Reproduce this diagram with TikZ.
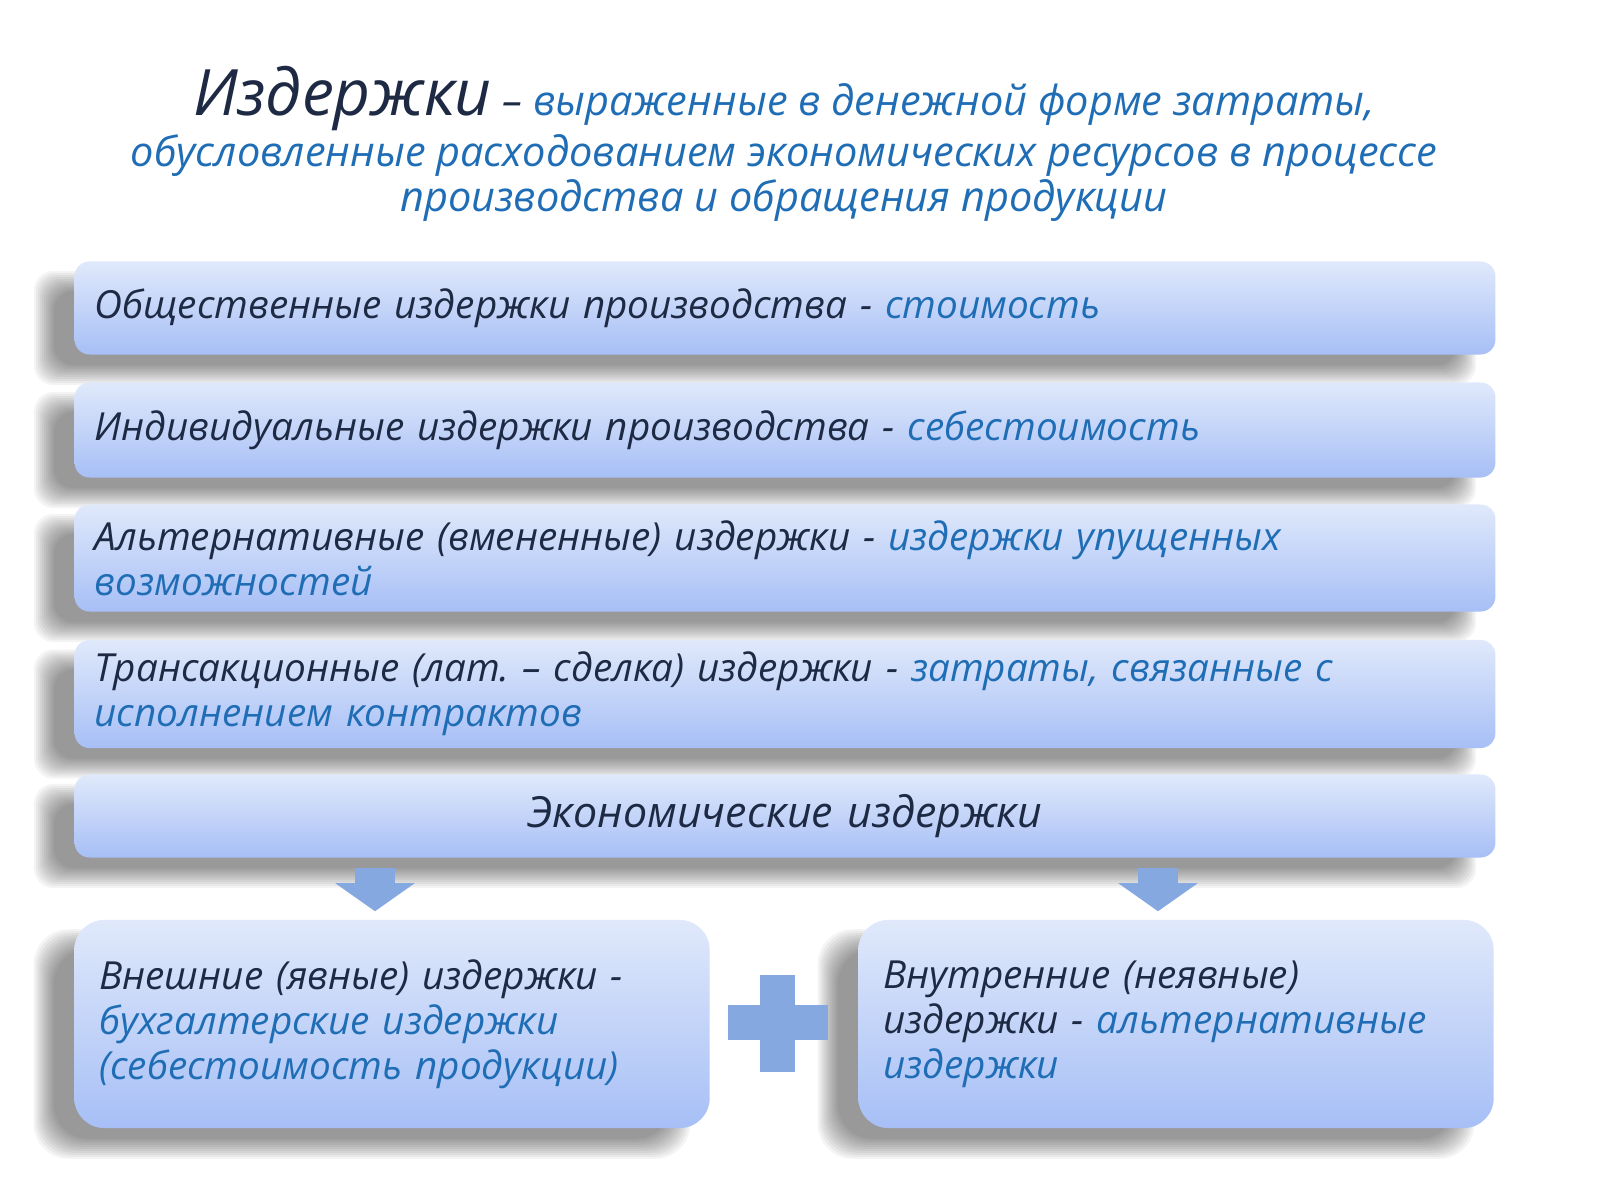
\documentclass[tikz,border=0pt]{standalone}
\usepackage{fontspec}
\setmainfont{Open Sans}
\usetikzlibrary{arrows.meta,backgrounds}

\definecolor{ink}{HTML}{1E2A44}
\definecolor{hint}{HTML}{1F6DB5}
\definecolor{boxtop}{HTML}{E0E9FB}
\definecolor{boxbot}{HTML}{A7BFF6}
\definecolor{signblue}{HTML}{86A8E0}

\tikzset{
  costbox/.style={rounded corners=0.15cm,top color=boxtop,bottom color=boxbot,
    draw=none,text=ink,font=\fontsize{11}{12.8}\selectfont\itshape,
    minimum width=14.2cm,text width=13.8cm,inner xsep=0.2cm,align=left},
  halfbox/.style={costbox,rounded corners=0.3cm,minimum width=6.35cm,
    text width=5.85cm,inner xsep=0.25cm,minimum height=2.08cm},
  shadowlayer/.style={fill=black,opacity=0.042},
  blockarrow/.style={line width=0.4cm,draw=signblue,-{Triangle[width=0.78cm,length=0.28cm]},
    shorten <=0.1cm,shorten >=0.08cm}
}

\begin{document}
\begin{tikzpicture}[x=0.01cm,y=-0.01cm]
    \useasboundingbox (0,0) rectangle (1600,1200);

    \node[align=center,text=hint,font=\fontsize{11.8}{13}\selectfont\itshape] (title) at (784,144)
      {{\color{ink}\fontsize{18.2}{18.2}\selectfont Издержки} {\color{ink}–} выраженные в денежной форме затраты,\\
       обусловленные расходованием экономических ресурсов в процессе\\
       производства и обращения продукции};

    \node[costbox,minimum height=0.93cm] (social) at (785,308)
      {Общественные издержки производства - {\color{hint}стоимость}};
    \node[costbox,minimum height=0.95cm] (indiv) at (785,430)
      {Индивидуальные издержки производства - {\color{hint}себестоимость}};
    \node[costbox,minimum height=1.07cm] (alter) at (785,558)
      {Альтернативные (вмененные) издержки - {\color{hint}издержки упущенных\\ возможностей}};
    \node[costbox,minimum height=1.08cm] (trans) at (785,694)
      {Трансакционные (лат.\ – сделка) издержки - {\color{hint}затраты, связанные с\\ исполнением контрактов}};
    \node[costbox,minimum height=0.83cm,align=center,font=\fontsize{12.2}{14}\selectfont\itshape] (econ) at (785,816)
      {Экономические издержки};

    \node[halfbox] (explicit) at (392,1024)
      {Внешние (явные) издержки -\\ {\color{hint}бухгалтерские издержки\\ (себестоимость продукции)}};
    \node[halfbox] (implicit) at (1176,1024)
      {Внутренние (неявные)\\ издержки - {\color{hint}альтернативные\\ издержки}};

    % white page, then soft shadows shifted left and down
    \begin{scope}[on background layer]
      \fill[white] (0,0) rectangle (1600,1200);
      \foreach \n/\rc in {social/0.2cm,indiv/0.2cm,alter/0.2cm,trans/0.2cm,econ/0.2cm,explicit/0.35cm,implicit/0.35cm}
        \foreach \k in {-10,-8,...,10}
          \fill[shadowlayer,rounded corners=\rc]
            ([shift={(-30+\k,20+\k)}]\n.north west) rectangle ([shift={(-30-\k,20-\k)}]\n.south east);
    \end{scope}

    \coordinate (ar1) at (375,0);
    \coordinate (ar2) at (1158,0);
    \draw[blockarrow] (econ.south -| ar1) -- (explicit.north -| ar1);
    \draw[blockarrow] (econ.south -| ar2) -- (implicit.north -| ar2);

    % plus sign between the two halves
    \fill[signblue] (760,975) rectangle (795,1072);
    \fill[signblue] (728,1005) rectangle (828,1040);
  \end{tikzpicture}
\end{document}
